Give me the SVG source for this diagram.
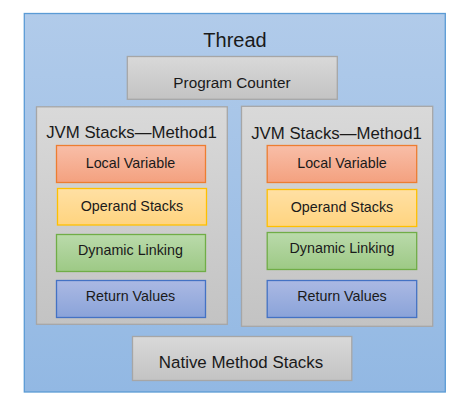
<svg xmlns="http://www.w3.org/2000/svg" width="456" height="406" viewBox="0 0 456 406">
<defs>
<linearGradient id="gBlue" x1="0" y1="0" x2="0" y2="1"><stop offset="0" stop-color="#b1cbea"/><stop offset="1" stop-color="#92b8e3"/></linearGradient>
<linearGradient id="gGray" x1="0" y1="0" x2="0" y2="1"><stop offset="0" stop-color="#d9d9d9"/><stop offset="1" stop-color="#c3c3c3"/></linearGradient>
<linearGradient id="gOrange" x1="0" y1="0" x2="0" y2="1"><stop offset="0" stop-color="#f8bea8"/><stop offset="1" stop-color="#f4a17f"/></linearGradient>
<linearGradient id="gYellow" x1="0" y1="0" x2="0" y2="1"><stop offset="0" stop-color="#ffe0a4"/><stop offset="1" stop-color="#ffd47f"/></linearGradient>
<linearGradient id="gGreen" x1="0" y1="0" x2="0" y2="1"><stop offset="0" stop-color="#badaab"/><stop offset="1" stop-color="#9dc985"/></linearGradient>
<linearGradient id="gPurple" x1="0" y1="0" x2="0" y2="1"><stop offset="0" stop-color="#abb9e3"/><stop offset="1" stop-color="#8aa3d9"/></linearGradient>
</defs>
<style>
text{font-family:"Liberation Sans",Arial,sans-serif;fill:#1a1a1a;text-anchor:middle}
.gray{fill:url(#gGray);stroke:#a6a6a6;stroke-width:1.3}
.lv{fill:url(#gOrange);stroke:#ed7d31;stroke-width:1.3}
.os{fill:url(#gYellow);stroke:#ffc000;stroke-width:1.3}
.dl{fill:url(#gGreen);stroke:#70ad47;stroke-width:1.3}
.rv{fill:url(#gPurple);stroke:#4472c4;stroke-width:1.3}
.small{font-size:14.3px}
.jvm{font-size:16.8px}
</style>
<g id="thread">
<rect x="24.3" y="13.5" width="421" height="378.5" fill="url(#gBlue)" stroke="#5b9bd5" stroke-width="1.3"/>
<text x="235" y="47" style="font-size:20px">Thread</text>
</g>
<g id="program-counter">
<rect class="gray" x="127.3" y="56.5" width="210" height="42.8"/>
<text x="232" y="87.5" style="font-size:15.3px">Program Counter</text>
</g>
<g id="jvm-stacks-1">
<rect class="gray" x="36.5" y="106.8" width="190.8" height="217.5"/>
<text x="131.5" y="138" class="jvm">JVM Stacks—Method1</text>
</g>
<g id="local-variable-1">
<rect class="lv" x="56.5" y="145.5" width="149" height="37"/>
<text x="130.5" y="168" class="small">Local Variable</text>
</g>
<g id="operand-stacks-1">
<rect class="os" x="57.5" y="188.5" width="149" height="36.5"/>
<text x="132" y="211" class="small">Operand Stacks</text>
</g>
<g id="dynamic-linking-1">
<rect class="dl" x="56.5" y="234.5" width="149" height="37"/>
<text x="130.5" y="254.5" class="small">Dynamic Linking</text>
</g>
<g id="return-values-1">
<rect class="rv" x="56.5" y="280.5" width="149" height="37"/>
<text x="130.5" y="301" class="small">Return Values</text>
</g>
<g id="jvm-stacks-2">
<rect class="gray" x="241.5" y="106.3" width="191.2" height="220"/>
<text x="336.5" y="139" class="jvm">JVM Stacks—Method1</text>
</g>
<g id="local-variable-2">
<rect class="lv" x="267.2" y="145.5" width="149.5" height="37"/>
<text x="342" y="168" class="small">Local Variable</text>
</g>
<g id="operand-stacks-2">
<rect class="os" x="267.2" y="189.5" width="149.5" height="37"/>
<text x="342" y="212" class="small">Operand Stacks</text>
</g>
<g id="dynamic-linking-2">
<rect class="dl" x="267.2" y="232.5" width="149.5" height="37"/>
<text x="342" y="253" class="small">Dynamic Linking</text>
</g>
<g id="return-values-2">
<rect class="rv" x="267.2" y="280.5" width="149.5" height="37"/>
<text x="342" y="301" class="small">Return Values</text>
</g>
<g id="native-method-stacks">
<rect class="gray" x="132.5" y="336.5" width="219.3" height="44"/>
<text x="241" y="368" style="font-size:16.9px">Native Method Stacks</text>
</g>
<g id="connectors"></g>
</svg>
